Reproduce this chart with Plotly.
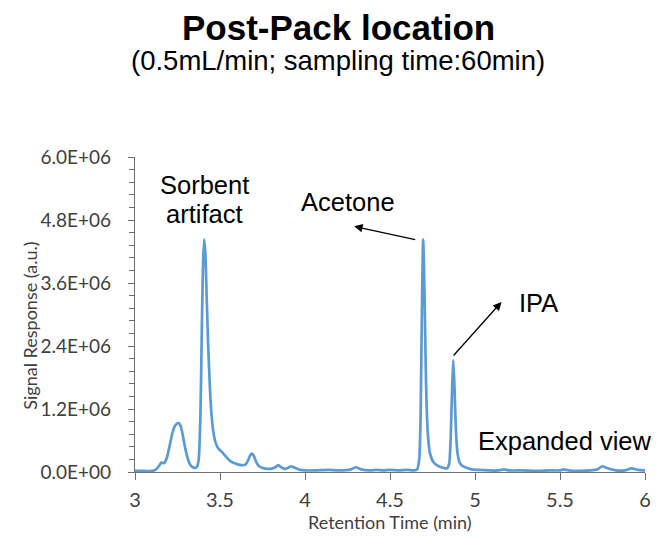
import plotly.graph_objects as go

# Chromatogram trace: retention time (min) and detector signal (x1e6 a.u.)
retention_time = [
    3.00, 3.05, 3.10, 3.12, 3.14, 3.155, 3.165, 3.175, 3.19, 3.205, 3.22, 3.235,
    3.25, 3.258, 3.268, 3.28, 3.295, 3.31, 3.325, 3.34, 3.355, 3.365, 3.375,
    3.385, 3.393, 3.40, 3.407, 3.414, 3.422, 3.43, 3.44, 3.45, 3.46, 3.475,
    3.49, 3.505, 3.515, 3.53, 3.55, 3.57, 3.60, 3.625, 3.65, 3.665, 3.678,
    3.688, 3.70, 3.715, 3.73, 3.76, 3.795, 3.825, 3.843, 3.86, 3.88, 3.90,
    3.92, 3.94, 3.97, 4.00, 4.06, 4.14, 4.20, 4.27, 4.30, 4.33, 4.38, 4.42,
    4.46, 4.50, 4.55, 4.60, 4.64, 4.66, 4.672, 4.68, 4.687, 4.695, 4.703,
    4.712, 4.722, 4.735, 4.755, 4.78, 4.81, 4.835, 4.848, 4.857, 4.865,
    4.872, 4.879, 4.887, 4.897, 4.91, 4.925, 4.95, 4.98, 5.02, 5.08, 5.14,
    5.17, 5.20, 5.28, 5.36, 5.44, 5.50, 5.52, 5.55, 5.62, 5.68, 5.72, 5.75,
    5.78, 5.83, 5.88, 5.92, 5.96, 6.00,
]
signal_e6 = [
    0.02, 0.02, 0.02, 0.04, 0.11, 0.18, 0.17, 0.18, 0.30, 0.52, 0.74, 0.88,
    0.93, 0.93, 0.88, 0.72, 0.46, 0.26, 0.14, 0.09, 0.08, 0.10, 0.25,
    1.10, 2.70, 3.95, 4.43, 4.15, 3.30, 2.45, 1.65, 1.10, 0.78, 0.55,
    0.45, 0.40, 0.37, 0.31, 0.24, 0.19, 0.15, 0.13, 0.14, 0.22, 0.32,
    0.35, 0.30, 0.18, 0.11, 0.07, 0.06, 0.09, 0.13, 0.09, 0.06, 0.08,
    0.11, 0.08, 0.04, 0.03, 0.03, 0.04, 0.03, 0.05, 0.09, 0.05, 0.03, 0.04,
    0.03, 0.04, 0.03, 0.04, 0.03, 0.05, 0.25, 1.05, 2.90, 4.43, 3.40,
    1.70, 0.75, 0.36, 0.19, 0.12, 0.08, 0.07, 0.16, 0.65, 1.55,
    2.13, 1.65, 0.85, 0.36, 0.18, 0.12, 0.08, 0.05, 0.04, 0.03, 0.03,
    0.05, 0.03, 0.03, 0.02, 0.03, 0.03, 0.05, 0.03, 0.02, 0.03, 0.05, 0.11,
    0.07, 0.03, 0.03, 0.07, 0.04, 0.03,
]
signal = [v * 1e6 for v in signal_e6]

y_tick_values = [0, 1.2e6, 2.4e6, 3.6e6, 4.8e6, 6.0e6]
y_tick_labels = ["0.0E+00", "1.2E+06", "2.4E+06", "3.6E+06", "4.8E+06", "6.0E+06"]
x_tick_values = [3, 3.5, 4, 4.5, 5, 5.5, 6]
x_tick_labels = ["3", "3.5", "4", "4.5", "5", "5.5", "6"]

ARIAL = "Liberation Sans, Arial, sans-serif"
CALIBRI = "Lato, Calibri, sans-serif"
AXIS_GREY = "#6f6f6f"
LABEL_GREY = "#404040"
LABEL_SIZE = 25.5


def note(text, x, y, xref="x", yref="y", size=LABEL_SIZE, family=ARIAL, color="#000000", **kw):
    return dict(text=text, x=x, y=y, xref=xref, yref=yref, showarrow=False,
                xanchor="center", yanchor="middle",
                font=dict(family=family, size=size, color=color), **kw)


def arrow(x, y, ax, ay):
    return dict(text="", x=x, y=y, ax=ax, ay=ay, xref="x", yref="y", axref="x", ayref="y",
                showarrow=True, arrowhead=2, arrowsize=1.3, arrowwidth=1.3,
                arrowcolor="#000000")


annotations = [
    # headline and run conditions
    note("<b>Post-Pack location</b>", 0.399, 1.41, "paper", "paper", size=35),
    note("(0.5mL/min; sampling time:60min)", 0.399, 1.305, "paper", "paper", size=27.5),
    # axis titles
    note("Signal Response (a.u.)", -0.205, 0.466, "paper", "paper", size=18,
         family=CALIBRI, color=LABEL_GREY, textangle=-90),
    note("Retention Time (min)", 0.5, -0.158, "paper", "paper", size=18,
         family=CALIBRI, color=LABEL_GREY),
    # peak labels
    note("Sorbent", 3.407, 5.466e6),
    note("artifact", 3.407, 4.91e6),
    note("Acetone", 4.25, 5.142e6),
    note("IPA", 5.375, 3.226e6),
    note("Expanded view", 5.529, 0.585e6),
    # arrows pointing from the peaks to their labels
    arrow(4.289, 4.68e6, 4.657, 4.42e6),
    arrow(5.156, 3.24e6, 4.866, 2.19e6),
]

fig = go.Figure()
fig.add_trace(go.Scatter(
    x=retention_time, y=signal, mode="lines",
    line=dict(color="#5B9BD5", width=2.7, shape="spline", smoothing=0.6),
    hoverinfo="skip", showlegend=False,
))

fig.update_layout(
    width=659, height=536,
    margin=dict(l=135, r=8, t=157, b=64),
    paper_bgcolor="white", plot_bgcolor="white",
    annotations=annotations,
    xaxis=dict(
        range=[3, 6], tickvals=x_tick_values, ticktext=x_tick_labels,
        showgrid=False, zeroline=False, showline=True, linecolor=AXIS_GREY, linewidth=1.3,
        ticks="outside", ticklen=7, tickcolor=AXIS_GREY, tickwidth=1.3,
        tickfont=dict(family=CALIBRI, size=20, color=LABEL_GREY),
        ticklabelstandoff=3,
    ),
    yaxis=dict(
        range=[0, 6e6], tickvals=y_tick_values, ticktext=y_tick_labels,
        showgrid=False, zeroline=False, showline=True, linecolor=AXIS_GREY, linewidth=1.3,
        ticks="outside", ticklen=6, tickcolor=AXIS_GREY, tickwidth=1.3,
        minor=dict(ticks="outside", dtick=0.24e6, ticklen=5, tickcolor=AXIS_GREY,
                   tickwidth=1.1, showgrid=False),
        tickfont=dict(family=CALIBRI, size=19, color=LABEL_GREY),
        ticklabelstandoff=13,
    ),
)

fig.write_html("out.html")
